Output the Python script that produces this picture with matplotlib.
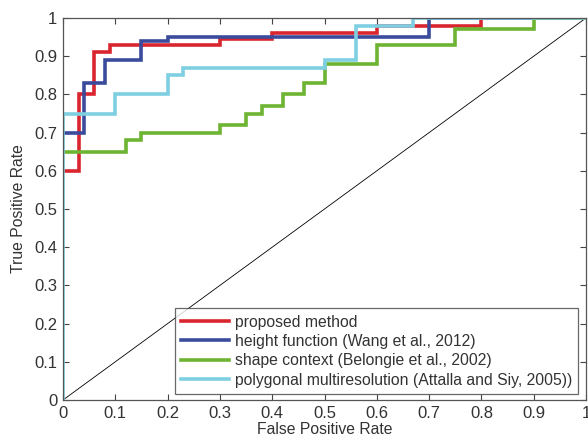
import matplotlib
matplotlib.use("Agg")
import matplotlib.pyplot as plt

plt.rcParams['font.family'] = ['Liberation Sans', 'DejaVu Sans']

# Data (step curves: points of ROC curves)
proposed_x = [0, 0.03, 0.03, 0.06, 0.06, 0.09, 0.09, 0.30, 0.30, 0.40, 0.40, 0.60, 0.60, 0.80, 0.80, 1.0]
proposed_y = [0.60, 0.60, 0.80, 0.80, 0.91, 0.91, 0.93, 0.93, 0.945, 0.945, 0.96, 0.96, 0.98, 0.98, 1.0, 1.0]

height_x = [0, 0.04, 0.04, 0.08, 0.08, 0.15, 0.15, 0.20, 0.20, 0.70, 0.70, 1.0]
height_y = [0.70, 0.70, 0.83, 0.83, 0.89, 0.89, 0.94, 0.94, 0.95, 0.95, 1.0, 1.0]

shape_x = [0, 0.12, 0.12, 0.15, 0.15, 0.30, 0.30, 0.35, 0.35, 0.38, 0.38, 0.42, 0.42,
           0.46, 0.46, 0.50, 0.50, 0.60, 0.60, 0.75, 0.75, 0.90, 0.90, 1.0]
shape_y = [0.65, 0.65, 0.68, 0.68, 0.70, 0.70, 0.72, 0.72, 0.75, 0.75, 0.77, 0.77, 0.80,
           0.80, 0.83, 0.83, 0.88, 0.88, 0.93, 0.93, 0.97, 0.97, 1.0, 1.0]

poly_x = [0, 0, 0.10, 0.10, 0.20, 0.20, 0.23, 0.23, 0.50, 0.50, 0.56, 0.56, 0.67, 0.67, 1.0]
poly_y = [0, 0.75, 0.75, 0.80, 0.80, 0.85, 0.85, 0.87, 0.87, 0.89, 0.89, 0.98, 0.98, 1.0, 1.0]

labels = ["proposed method",
          "height function (Wang et al., 2012)",
          "shape context (Belongie et al., 2002)",
          "polygonal multiresolution (Attalla and Siy, 2005))"]
colors = ["#d9262e", "#3b4b9c", "#6cb432", "#7fcfe2"]

ticks = [0, 0.1, 0.2, 0.3, 0.4, 0.5, 0.6, 0.7, 0.8, 0.9, 1]
tick_labels = ["0", "0.1", "0.2", "0.3", "0.4", "0.5", "0.6", "0.7", "0.8", "0.9", "1"]

fig = plt.figure(figsize=(5.88, 4.38), dpi=100)
ax = fig.add_axes([63/588, 1 - 400/438, (586-63)/588, (400-18)/438])

ax.plot([0, 1], [0, 1], color="black", lw=0.6, zorder=1)
series = [(proposed_x, proposed_y), (height_x, height_y), (shape_x, shape_y), (poly_x, poly_y)]
for (xs, ys), lab, c in zip(series, labels, colors):
    ax.plot(xs, ys, color=c, lw=2.6, label=lab, zorder=2, solid_joinstyle='miter')

ax.set_xlim(0, 1)
ax.set_ylim(0, 1)
ax.set_xticks(ticks)
ax.set_xticklabels(tick_labels)
ax.set_yticks(ticks)
ax.set_yticklabels(tick_labels)
ax.tick_params(direction='in', top=True, right=True, length=4, width=0.8,
               color="#444444", labelcolor="#333333", labelsize=12, pad=4)
for s in ax.spines.values():
    s.set_color("#555555")
    s.set_linewidth(0.9)
ax.set_xlabel("False Positive Rate", fontsize=11.3, color="#333333", labelpad=1)
ax.set_ylabel("True Positive Rate", fontsize=11.3, color="#333333", labelpad=6)

leg = ax.legend(loc="lower right", bbox_to_anchor=(0.985, 0.0157), fontsize=11.3,
                frameon=True, fancybox=False, borderpad=0.4, labelspacing=0.28,
                handlelength=3.05, handletextpad=0.38, borderaxespad=0)
leg.get_frame().set_edgecolor("#444444")
leg.get_frame().set_linewidth(0.9)
for t in leg.get_texts():
    t.set_color("#333333")

fig.savefig("out.png", dpi=100)
